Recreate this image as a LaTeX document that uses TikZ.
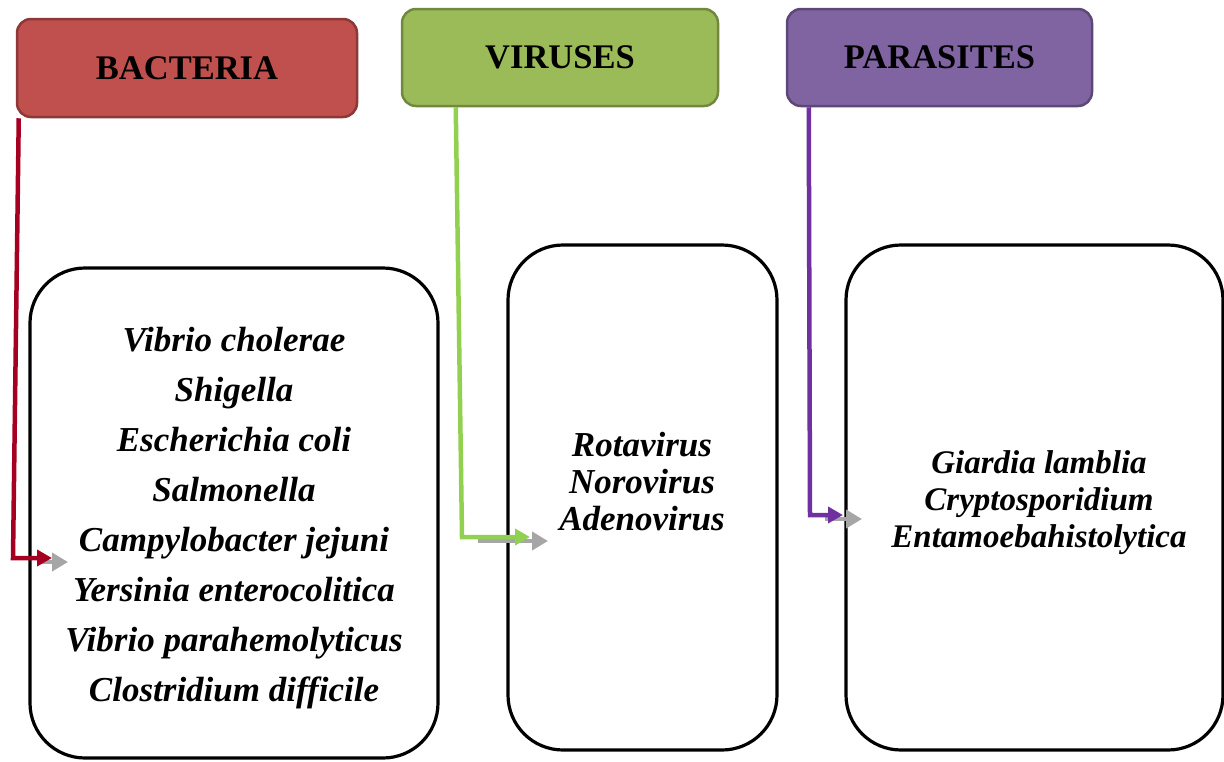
\documentclass[tikz,border=0pt]{standalone}
\usepackage{fontspec}
\setmainfont{Liberation Serif}
\usetikzlibrary{arrows.meta}

\definecolor{bactfill}{HTML}{C0504D}
\definecolor{bactedge}{HTML}{8C3836}
\definecolor{virfill}{HTML}{9BBB59}
\definecolor{viredge}{HTML}{71893F}
\definecolor{parfill}{HTML}{8064A2}
\definecolor{paredge}{HTML}{5C4776}
\definecolor{bactline}{HTML}{A50021}
\definecolor{virline}{HTML}{92D050}
\definecolor{parline}{HTML}{7030A0}
\definecolor{pointgray}{HTML}{A6A6A6}

\tikzset{
	header/.style={line width=2.5pt, rounded corners=14pt, inner sep=0pt,
		font=\fontsize{34.5}{40}\selectfont\bfseries},
	listbox/.style={draw=black, line width=3.2pt, rounded corners=55pt, inner sep=0pt},
	species/.style={align=center, font=\fontsize{35}{#1}\selectfont\bfseries\itshape},
	link/.style={line width=4.5pt, -{Triangle[length=15pt,width=16pt]}},
	pointer/.style={draw=pointgray, line width=4pt, -{Triangle[length=16pt,width=18pt]}}
}

\begin{document}
\begin{tikzpicture}[x=1pt,y=-1pt]
		\useasboundingbox (0,0) rectangle (1224,761);
		\clip (0,0) rectangle (1224,761);

		% boxes with the lists
		\node[listbox, minimum width=408pt, minimum height=490pt] (bactlist) at (234,513) {};
		\node[listbox, minimum width=269pt, minimum height=505pt] (virlist) at (642.5,497.5) {};
		\node[listbox, minimum width=377pt, minimum height=505pt] (parlist) at (1034.5,497.5) {};

		\node[species=50] (bactnames) at (234,518) {Vibrio cholerae\\ Shigella\\ Escherichia coli\\
			Salmonella\\ Campylobacter jejuni\\ Yersinia enterocolitica\\
			Vibrio parahemolyticus\\ Clostridium difficile};
		\node[species=37] (virnames) at (642,482) {Rotavirus\\ Norovirus\\ Adenovirus};
		\node[species=37, font=\fontsize{33}{37}\selectfont\bfseries\itshape] (parnames) at (1039,503) {Giardia lamblia\\ Cryptosporidium\\ Entamoebahistolytica};

		% headers
		\node[header, fill=bactfill, draw=bactedge, minimum width=340pt, minimum height=98pt] (bacteria) at (187,68) {BACTERIA};
		\node[header, fill=virfill, draw=viredge, minimum width=316pt, minimum height=97pt] (viruses) at (560,57.5) {VIRUSES};
		\node[header, fill=parfill, draw=paredge, minimum width=305pt, minimum height=97pt] (parasites) at (939.5,57.5) {PARASITES};

		\coordinate (bactbend) at (13,558);
		\coordinate (bacttip) at (52,558);
		\coordinate (virbend) at (462,537);
		\coordinate (virtip) at (530,537);
		\coordinate (parbend) at (810,515);
		\coordinate (partip) at (843,515);

		\draw[pointer] (40,562) -- (68,562);
		\draw[pointer] (478,541) -- (548,541);
		\draw[pointer] (825,519) -- (862,519);

		\draw[link, bactline] ([xshift=3pt]bacteria.south west) -- (bactbend) -- (bacttip);
		\draw[link, virline] ([xshift=55pt]viruses.south west) -- (virbend) -- (virtip);
		\draw[link, parline] ([xshift=23pt]parasites.south west) -- (parbend) -- (partip);
	\end{tikzpicture}
\end{document}
